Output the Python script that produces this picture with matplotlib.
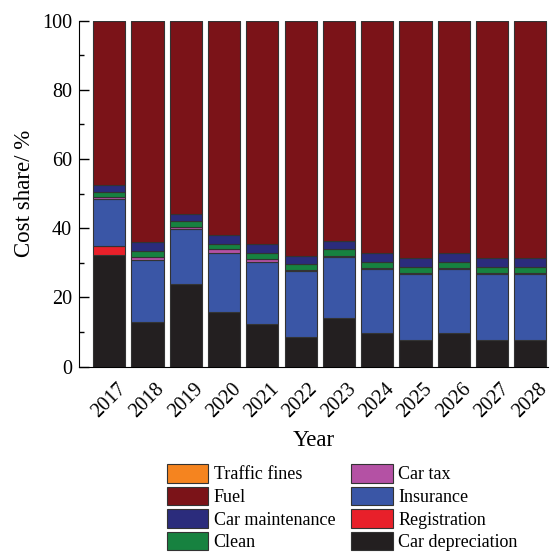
import matplotlib.pyplot as plt
import numpy as np

plt.rcParams['font.family'] = ['Liberation Serif', 'DejaVu Serif']
plt.rcParams['font.size'] = 14.5

years = ['2017', '2018', '2019', '2020', '2021', '2022',
         '2023', '2024', '2025', '2026', '2027', '2028']

# cost shares (%) per year, stacked bottom to top
car_depreciation = [32.3, 13.0, 24.0, 15.7, 12.3, 8.6, 14.2, 9.6, 7.6, 9.6, 7.6, 7.6]
registration     = [2.7, 0.0, 0.0, 0.0, 0.0, 0.0, 0.0, 0.0, 0.0, 0.0, 0.0, 0.0]
insurance        = [13.5, 17.8, 15.7, 17.3, 18.0, 19.0, 17.5, 18.6, 19.1, 18.6, 19.1, 19.1]
car_tax          = [0.6, 1.0, 0.8, 0.9, 0.9, 0.3, 0.3, 0.3, 0.3, 0.3, 0.3, 0.3]
clean            = [1.5, 1.7, 1.5, 1.7, 1.8, 1.8, 1.9, 1.8, 1.9, 1.8, 1.9, 1.9]
car_maintenance  = [1.8, 2.4, 2.0, 2.4, 2.4, 2.4, 2.4, 2.7, 2.6, 2.7, 2.6, 2.6]
fuel             = [47.4, 63.9, 55.8, 61.8, 64.4, 67.7, 63.5, 66.8, 68.3, 66.8, 68.3, 68.3]
traffic_fines    = [0.2, 0.2, 0.2, 0.2, 0.2, 0.2, 0.2, 0.2, 0.2, 0.2, 0.2, 0.2]

series = [
    ('Car depreciation', car_depreciation, '#231f20'),
    ('Registration', registration, '#e8202a'),
    ('Insurance', insurance, '#3a56a6'),
    ('Car tax', car_tax, '#b451a4'),
    ('Clean', clean, '#178240'),
    ('Car maintenance', car_maintenance, '#2b2c7c'),
    ('Fuel', fuel, '#7b1318'),
    ('Traffic fines', traffic_fines, '#f5841f'),
]

fig = plt.figure(figsize=(5.5, 5.52), dpi=100)
ax = fig.add_axes([0.1436, 0.3357, 0.8528, 0.6268])

x = np.arange(len(years))
bottom = np.zeros(len(years))
handles = {}
for name, vals, col in series:
    vals = np.array(vals)
    b = ax.bar(x, vals, 0.84, bottom=bottom, color=col,
               edgecolor='#333333', linewidth=0.8, label=name)
    handles[name] = b
    bottom += vals

ax.set_xlim(-0.787, 11.46)
ax.set_ylim(0, 100)
ax.set_yticks([0, 20, 40, 60, 80, 100])
ax.set_yticks([10, 30, 50, 70, 90], minor=True)
ax.tick_params(axis='y', which='major', direction='in', length=7, width=1, pad=5)
ax.tick_params(axis='y', which='minor', direction='in', length=3.5, width=1)
ax.set_xticks(x)
ax.set_xticklabels(years, rotation=45)
ax.tick_params(axis='x', length=0, pad=9)
ax.spines['top'].set_visible(False)
ax.spines['right'].set_visible(False)
ax.set_xlabel('Year', fontsize=16.5, labelpad=6)
ax.set_ylabel('Cost share/ %', fontsize=16.5, labelpad=5)

order = ['Traffic fines', 'Fuel', 'Car maintenance', 'Clean',
         'Car tax', 'Insurance', 'Registration', 'Car depreciation']
fig.legend([handles[n] for n in order], order, ncol=2, frameon=False,
           loc='upper left', bbox_to_anchor=(167 / 550, 1 - 464 / 552),
           fontsize=13, handlelength=2.28, handleheight=1.2, handletextpad=0.3,
           columnspacing=0.9, labelspacing=0.18, borderpad=0, borderaxespad=0)

fig.savefig('out.png', dpi=100)
